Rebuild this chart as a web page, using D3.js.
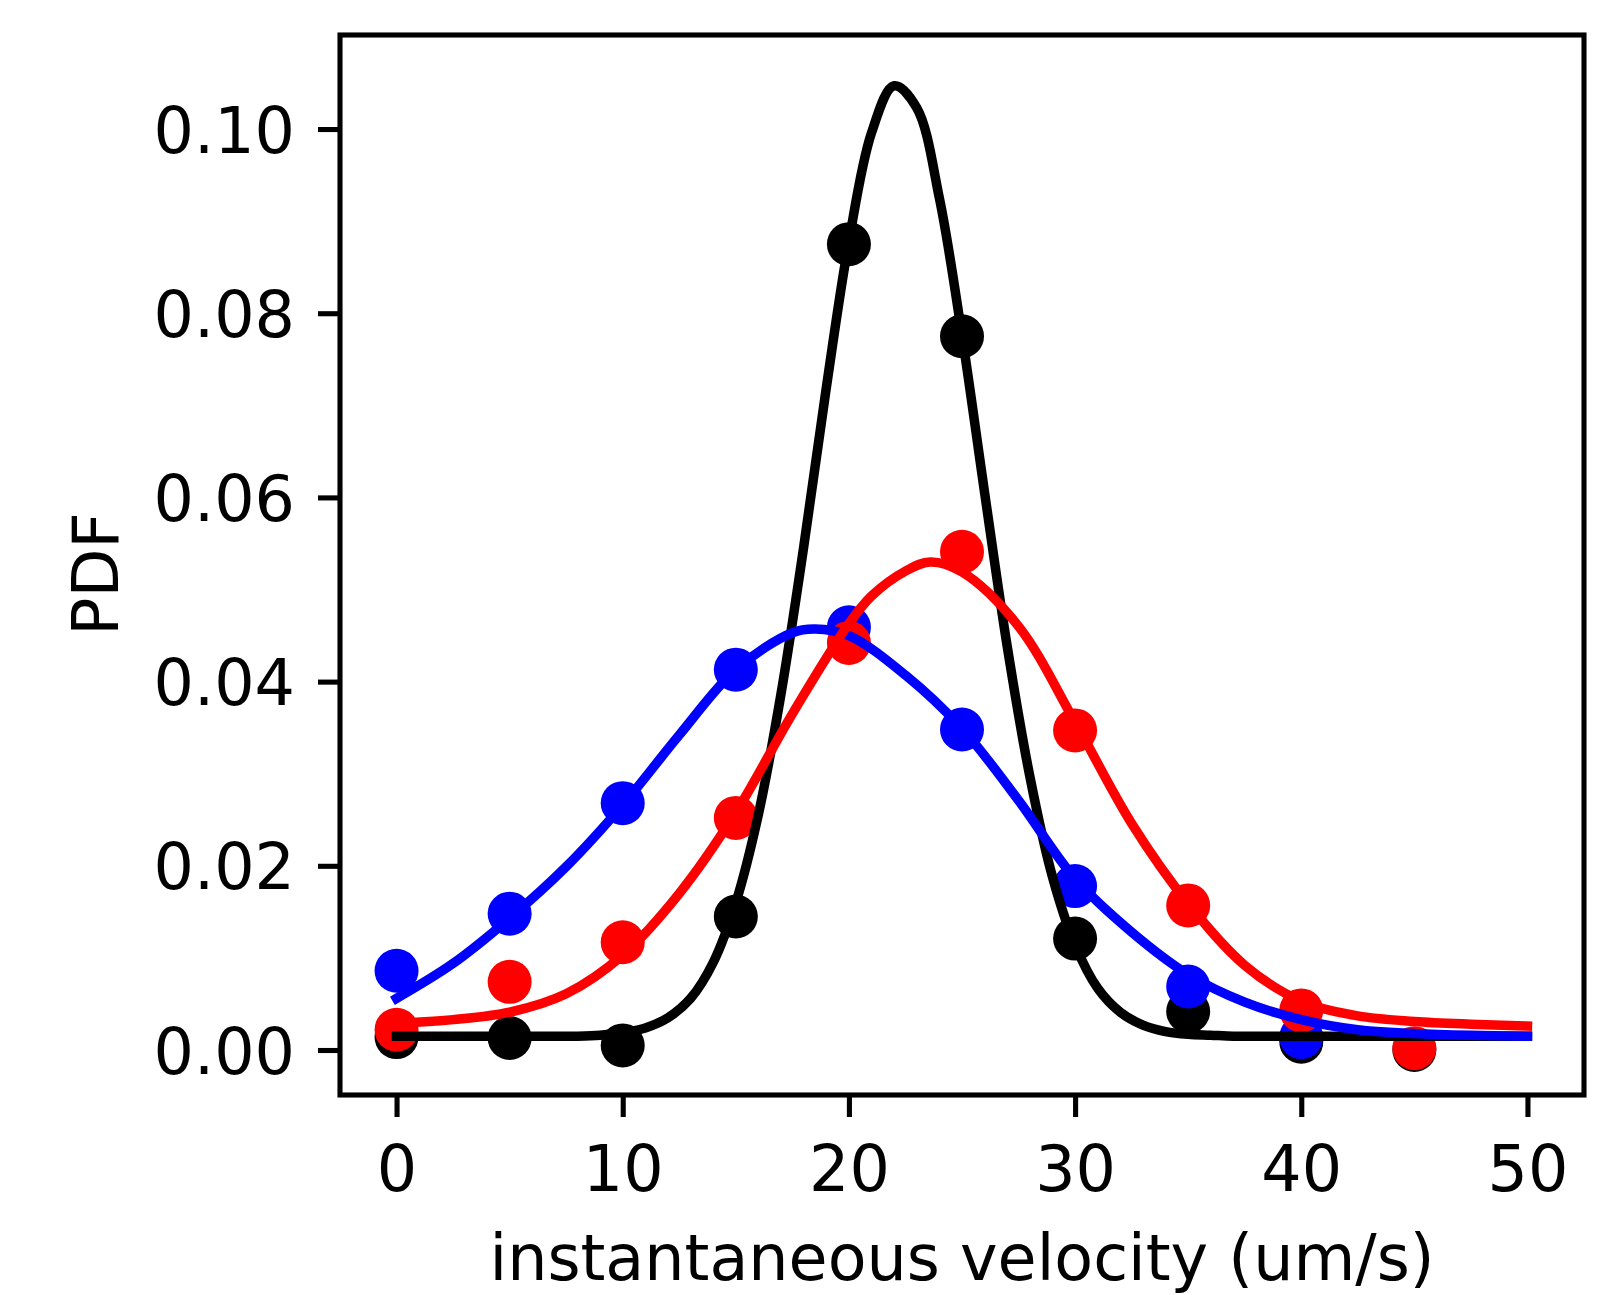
<!DOCTYPE html>
<html>
<head>
<meta charset="utf-8">
<script src="https://cdn.jsdelivr.net/npm/d3@7"></script>
<style>
  html, body { margin: 0; padding: 0; background: #fff; }
  svg { display: block; font-family: "DejaVu Sans", sans-serif; }
</style>
</head>
<body>
<div id="chart"></div>
<script>
// binned histogram values (PDF) at bin centres
const binCenters = [0, 5, 10, 15, 20, 25, 30, 35, 40, 45];
const blackPdf = [0.0014, 0.0013, 0.0005, 0.0145, 0.0875, 0.0775, 0.0121, 0.0042, 0.0009, 0.0000];
const bluePdf  = [0.0086, 0.0148, 0.0268, 0.0413, 0.0459, 0.0348, 0.0178, 0.0069, 0.0014];
const redPdf   = [0.0022, 0.0074, 0.0117, 0.0252, 0.0442, 0.0541, 0.0347, 0.0157, 0.0043, 0.0002];

// fitted curves
const blackFitX = [0, 1, 2, 3, 4, 5, 6, 7, 8, 9, 10, 11, 12, 13, 14, 15, 16, 17, 18, 19, 20,
                   21, 22, 23, 24, 25, 26, 27, 28, 29, 30, 31, 32, 33, 34, 35, 36, 37, 38, 39, 40,
                   41, 42, 43, 44, 45, 46, 47, 48, 49, 50];
const blackFitY = [0.0015, 0.0015, 0.0015, 0.0015, 0.0015, 0.0015, 0.0015, 0.0015, 0.0015, 0.0016, 0.0019,
                   0.0024, 0.0035, 0.0056, 0.0095, 0.0160, 0.0256, 0.0387, 0.0546, 0.0719, 0.0878,
                   0.0996, 0.1047, 0.1023, 0.0925, 0.0776, 0.0605, 0.0438, 0.0297, 0.0188, 0.0114,
                   0.0067, 0.0041, 0.0027, 0.0020, 0.0017, 0.0016, 0.0015, 0.0015, 0.0015, 0.0015,
                   0.0015, 0.0015, 0.0015, 0.0015, 0.0015, 0.0015, 0.0015, 0.0015, 0.0015, 0.0015];

const blueFitX = [0, 2.5, 5, 7.5, 10, 12.5, 15, 17.5, 18.5, 20, 22.5, 25, 27.5, 30, 32.5, 35,
                  37.5, 40, 42.5, 45, 47.5, 50];
const blueFitY = [0.0056, 0.0094, 0.0143, 0.0199, 0.0266, 0.0342, 0.0413, 0.0453, 0.0457, 0.0450,
                  0.0407, 0.0349, 0.0271, 0.0186, 0.0128, 0.0082, 0.0052, 0.0033, 0.0022, 0.0018,
                  0.0016, 0.0015];

const redFitX = [0, 2.5, 5, 7.5, 10, 12.5, 15, 17.5, 20, 21, 22.5, 23.6, 25, 27.5, 30, 32.5, 35,
                 37.5, 40, 42.5, 45, 47.5, 50];
const redFitY = [0.0029, 0.0033, 0.0041, 0.0061, 0.0103, 0.0170, 0.0258, 0.0365, 0.0463, 0.0493,
                 0.0520, 0.0530, 0.0519, 0.0460, 0.0356, 0.0246, 0.0159, 0.0092, 0.0053, 0.0037,
                 0.0031, 0.0028, 0.0026];

const xTicks = [0, 10, 20, 30, 40, 50];
const yTicks = [0.00, 0.02, 0.04, 0.06, 0.08, 0.10];

const series = [
    { color: "#000000", pdf: blackPdf, fitX: blackFitX, fitY: blackFitY },
    { color: "#0000ff", pdf: bluePdf,  fitX: blueFitX,  fitY: blueFitY },
    { color: "#ff0000", pdf: redPdf,   fitX: redFitX,   fitY: redFitY }
];

const W = 1620, H = 1295;
const margin = { top: 35, right: 36, bottom: 200, left: 340 };
const width = W - margin.left - margin.right;
const height = H - margin.top - margin.bottom;
const fontSize = 63.5;
const axisW = 5.1;
const tickLen = 22;

const svg = d3.select("#chart")
    .append("svg")
    .attr("width", W)
    .attr("height", H);

const g = svg.append("g")
    .attr("transform", `translate(${margin.left},${margin.top})`);

// =====================
// SCALES
// =====================
const x = d3.scaleLinear().domain([-2.5, 52.5]).range([0, width]);
const y = d3.scaleLinear().domain([-0.004886, 0.11021]).range([height, 0]);

// =====================
// POINTS (drawn first, lines go over them)
// =====================
series.forEach(s => {
    g.append("g")
        .selectAll("circle")
        .data(s.pdf)
        .enter()
        .append("circle")
        .attr("cx", (d, i) => x(binCenters[i]))
        .attr("cy", d => y(d))
        .attr("r", 22)
        .attr("fill", s.color);
});

// =====================
// FIT LINES
// =====================
const line = d3.line()
    .x(d => x(d[0]))
    .y(d => y(d[1]))
    .curve(d3.curveCatmullRom.alpha(0.5));

series.forEach(s => {
    g.append("path")
        .datum(s.fitX.map((v, i) => [v, s.fitY[i]]))
        .attr("d", line)
        .attr("fill", "none")
        .attr("stroke", s.color)
        .attr("stroke-width", 9.5)
        .attr("stroke-linecap", "square")
        .attr("stroke-linejoin", "round");
});

// =====================
// AXES
// =====================
const xAxis = g.append("g")
    .attr("transform", `translate(0,${height})`)
    .call(d3.axisBottom(x).tickValues(xTicks).tickSize(tickLen).tickPadding(0).tickFormat(d3.format("d")));

const yAxis = g.append("g")
    .call(d3.axisLeft(y).tickValues(yTicks).tickSize(tickLen).tickPadding(0).tickFormat(d3.format(".2f")));

[xAxis, yAxis].forEach(a => {
    a.select(".domain").remove();
    a.selectAll(".tick line").attr("stroke", "#000").attr("stroke-width", axisW);
    a.selectAll(".tick text")
        .attr("fill", "#000")
        .style("font-size", fontSize + "px")
        .style("font-family", "'DejaVu Sans', sans-serif");
});

xAxis.selectAll(".tick text")
    .attr("y", 96)
    .attr("dy", null);

yAxis.selectAll(".tick text")
    .attr("x", -45)
    .attr("dy", "0.364em");

// frame
g.append("rect")
    .attr("x", 0)
    .attr("y", 0)
    .attr("width", width)
    .attr("height", height)
    .attr("fill", "none")
    .attr("stroke", "#000")
    .attr("stroke-width", axisW);

// =====================
// AXIS LABELS
// =====================
svg.append("text")
    .attr("x", margin.left + width / 2)
    .attr("y", 1280)
    .attr("text-anchor", "middle")
    .style("font-size", fontSize + "px")
    .text("instantaneous velocity (um/s)");

svg.append("text")
    .attr("transform", "translate(118,574) rotate(-90)")
    .attr("text-anchor", "middle")
    .style("font-size", fontSize + "px")
    .text("PDF");
</script>
</body>
</html>
